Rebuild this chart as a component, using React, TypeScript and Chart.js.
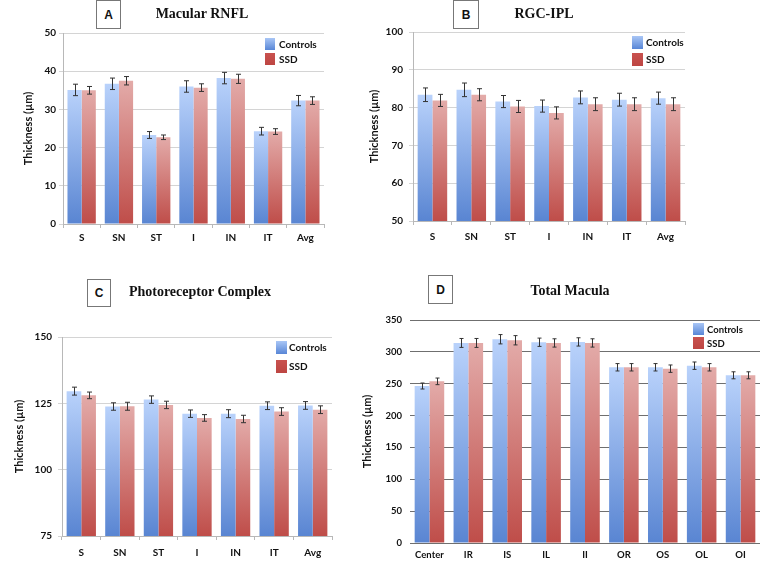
import React, { useEffect, useRef } from "react";
import { Chart, registerables } from "chart.js";

Chart.register(...registerables);

// ---------------- DATA ----------------
const sectorCats = ["S", "SN", "ST", "I", "IN", "IT", "Avg"];
const maculaCats = ["Center", "IR", "IS", "IL", "II", "OR", "OS", "OL", "OI"];
const seriesNames = ["Controls", "SSD"];

const rnflControls = [35.1, 36.7, 23.3, 36.0, 38.2, 24.3, 32.3];
const rnflControlsErr = [1.5, 1.5, 0.9, 1.5, 1.5, 1.0, 1.35];
const rnflSSD = [35.0, 37.5, 22.7, 35.7, 38.0, 24.2, 32.3];
const rnflSSDErr = [1.0, 1.1, 0.6, 1.0, 1.2, 0.75, 1.0];
const rnflTicks = [0, 10, 20, 30, 40, 50];

const rgcControls = [83.4, 84.7, 81.6, 80.4, 82.7, 82.1, 82.5];
const rgcControlsErr = [1.8, 1.8, 1.6, 1.6, 1.7, 1.7, 1.6];
const rgcSSD = [81.9, 83.4, 80.3, 78.6, 80.9, 80.9, 80.9];
const rgcSSDErr = [1.6, 1.6, 1.6, 1.6, 1.7, 1.7, 1.7];
const rgcTicks = [50, 60, 70, 80, 90, 100];

const prcControls = [129.6, 123.8, 126.4, 121.1, 121.1, 124.1, 124.2];
const prcControlsErr = [1.5, 1.4, 1.4, 1.4, 1.5, 1.45, 1.45];
const prcSSD = [128.0, 123.9, 124.4, 119.5, 119.1, 121.9, 122.6];
const prcSSDErr = [1.25, 1.5, 1.4, 1.25, 1.4, 1.45, 1.45];
const prcTicks = [75, 100, 125, 150];

const totalControls = [246.4, 314, 319.8, 315.1, 315.6, 275.8, 275.8, 278.3, 263.2];
const totalControlsErr = [4.7, 7, 7.3, 6.5, 6.5, 5.8, 5.8, 5.8, 5.5];
const totalSSD = [253.7, 314, 318.2, 314, 314, 275.8, 273.6, 275.8, 263.2];
const totalSSDErr = [5.2, 7, 7.3, 6.5, 6.5, 5.8, 5.8, 5.8, 5.5];
const totalTicks = [0, 50, 100, 150, 200, 250, 300, 350];

// ---------------- STYLE ----------------
const BLUE_LIGHT = "#b9d2fb";
const BLUE_DARK = "#5985d2";
const RED_LIGHT = "#e3aba9";
const RED_DARK = "#bf4d49";
const SANS = "Lato, 'Open Sans', sans-serif";
const SERIF = "'Liberation Serif', 'DejaVu Serif', serif";

type Box = { l: number; t: number; w: number; h: number };
type Area = { l: number; t: number; r: number; b: number };

const gradientFill = (light: string, dark: string) => (c: any) => {
  const chart = c.chart;
  if (!chart.chartArea || c.type !== "data") return dark;
  const ys = chart.scales.y;
  const top = ys.getPixelForValue(c.raw as number);
  const bottom = ys.bottom;
  const g = chart.ctx.createLinearGradient(0, top, 0, bottom);
  g.addColorStop(0, light);
  g.addColorStop(1, dark);
  return g;
};

const errorBarPlugin = {
  id: "errorBars",
  afterDatasetsDraw(chart: any, _a: any, opts: any) {
    const { ctx } = chart;
    const ys = chart.scales.y;
    ctx.save();
    ctx.strokeStyle = opts.color || "#333";
    ctx.lineWidth = opts.width || 1;
    chart.data.datasets.forEach((ds: any, i: number) => {
      const meta = chart.getDatasetMeta(i);
      meta.data.forEach((bar: any, j: number) => {
        const v = ds.data[j];
        const e = ds.errors[j];
        const x = Math.round(bar.x) + 0.5;
        const y1 = ys.getPixelForValue(v + e);
        const y2 = ys.getPixelForValue(v - e);
        const cap = opts.cap || 2.5;
        ctx.beginPath();
        ctx.moveTo(x, y1);
        ctx.lineTo(x, y2);
        ctx.moveTo(x - cap, y1);
        ctx.lineTo(x + cap, y1);
        ctx.moveTo(x - cap, y2);
        ctx.lineTo(x + cap, y2);
        ctx.stroke();
      });
    });
    ctx.restore();
  },
};

const swatchLegendPlugin = {
  id: "swatchLegend",
  afterDraw(chart: any, _a: any, opts: any) {
    const { ctx, chartArea } = chart;
    ctx.save();
    chart.data.datasets.forEach((ds: any, i: number) => {
      const x = chartArea.right - opts.dx;
      const y = chartArea.top + opts.dy + i * opts.step;
      const g = ctx.createLinearGradient(0, y, 0, y + opts.h);
      g.addColorStop(0, ds.swatchLight);
      g.addColorStop(1, ds.swatchDark);
      ctx.fillStyle = g;
      ctx.fillRect(x, y, opts.w, opts.h);
      ctx.fillStyle = "#111";
      ctx.font = `bold ${opts.size}px ${SANS}`;
      ctx.textBaseline = "middle";
      ctx.textAlign = "left";
      ctx.fillText(ds.label, x + opts.w + opts.gap, y + opts.h / 2 + 0.5);
    });
    ctx.restore();
  },
};

type PanelProps = {
  box: Box;
  area: Area;
  cats: string[];
  controls: number[];
  controlsErr: number[];
  ssd: number[];
  ssdErr: number[];
  ticks: number[];
  yTitleCenter: number;
  yTickPad: number;
  xTickPad: number;
  dark: boolean;
  fontSize: number;
  legend: any;
  cap: number;
};

function Panel(p: PanelProps) {
  const ref = useRef<HTMLCanvasElement | null>(null);
  useEffect(() => {
    if (!ref.current) return;
    const { box, area } = p;
    const yWidth = area.l - box.l;
    const xHeight = box.t + box.h - area.b;
    const titleFont = 11;
    const titlePad = p.yTitleCenter - box.l - (titleFont * 1.2) / 2;
    const tickMin = p.ticks[0];
    const tickMax = p.ticks[p.ticks.length - 1];
    const step = p.ticks[1] - p.ticks[0];
    const gridColor = p.dark ? "#6f6f6f" : "#d4d4d4";
    const chart = new Chart(ref.current, {
      type: "bar",
      data: {
        labels: p.cats,
        datasets: [
          {
            label: seriesNames[0],
            data: p.controls,
            errors: p.controlsErr,
            backgroundColor: gradientFill(BLUE_LIGHT, BLUE_DARK),
            swatchLight: "#a9c6f6",
            swatchDark: "#5886d6",
            barPercentage: 1,
            categoryPercentage: 0.76,
          } as any,
          {
            label: seriesNames[1],
            data: p.ssd,
            errors: p.ssdErr,
            backgroundColor: gradientFill(RED_LIGHT, RED_DARK),
            swatchLight: "#c9524f",
            swatchDark: "#bd4542",
            barPercentage: 1,
            categoryPercentage: 0.76,
          } as any,
        ],
      },
      options: {
        responsive: false,
        animation: false,
        devicePixelRatio: 1,
        layout: {
          padding: {
            left: 0,
            top: area.t - box.t,
            right: box.l + box.w - area.r,
            bottom: 0,
          },
        },
        plugins: {
          legend: { display: false },
          tooltip: { enabled: false },
          errorBars: { cap: p.cap, color: "#333", width: 1 },
          swatchLegend: p.legend,
        } as any,
        scales: {
          x: {
            afterFit: (s: any) => {
              s.height = xHeight;
            },
            grid: {
              display: true,
              drawOnChartArea: false,
              drawTicks: !p.dark,
              tickLength: 4,
              color: "#b8b8b8",
              offset: true,
            },
            border: { display: !p.dark, color: "#b8b8b8" },
            ticks: {
              color: "#111",
              padding: p.xTickPad,
              font: { family: SANS, weight: "bold", size: p.fontSize },
              maxRotation: 0,
              autoSkip: false,
            },
          },
          y: {
            min: tickMin,
            max: tickMax,
            afterFit: (s: any) => {
              s.width = yWidth;
            },
            afterBuildTicks: (s: any) => {
              s.ticks = p.ticks.map((v) => ({ value: v }));
            },
            ticks: {
              stepSize: step,
              color: "#111",
              padding: p.yTickPad,
              font: { family: SANS, weight: "bold", size: p.fontSize },
            },
            grid: {
              color: gridColor,
              lineWidth: 1,
              drawTicks: !p.dark,
              tickLength: 4,
            },
            border: { display: !p.dark, color: "#b8b8b8" },
            title: {
              display: true,
              text: "Thickness (µm)",
              color: "#111",
              font: { family: SANS, weight: "bold", size: titleFont },
              padding: { top: titlePad, bottom: 0 },
            },
          },
        },
      },
      plugins: [errorBarPlugin, swatchLegendPlugin],
    } as any);
    return () => chart.destroy();
  }, []);
  return (
    <canvas
      ref={ref}
      width={p.box.w}
      height={p.box.h}
      style={{
        position: "absolute",
        left: p.box.l,
        top: p.box.t,
        width: p.box.w,
        height: p.box.h,
      }}
    />
  );
}

function LetterBox(props: { letter: string; l: number; t: number; w: number; h: number }) {
  return (
    <div
      style={{
        position: "absolute",
        left: props.l,
        top: props.t,
        width: props.w,
        height: props.h,
        boxSizing: "border-box",
        border: "1px solid #777",
        background: "#fff",
        display: "flex",
        alignItems: "center",
        justifyContent: "center",
        fontFamily: "'Liberation Sans', Arial, sans-serif",
        fontWeight: "bold",
        fontSize: 12,
        color: "#111",
        zIndex: 2,
      }}
    >
      {props.letter}
    </div>
  );
}

function Title(props: { text: string; cx: number; cy: number }) {
  return (
    <div
      style={{
        position: "absolute",
        left: props.cx - 120,
        top: props.cy - 9,
        width: 240,
        height: 18,
        lineHeight: "18px",
        textAlign: "center",
        fontFamily: SERIF,
        fontWeight: "bold",
        fontSize: 14,
        color: "#111",
        zIndex: 2,
      }}
    >
      {props.text}
    </div>
  );
}

export default function App() {
  return (
    <div
      style={{
        position: "absolute",
        left: 0,
        top: 0,
        width: 760,
        height: 565,
        background: "#fff",
        overflow: "hidden",
      }}
    >
      <Panel
        box={{ l: 0, t: 0, w: 380, h: 260 }}
        area={{ l: 63, t: 33, r: 324, b: 224 }}
        cats={sectorCats}
        controls={rnflControls}
        controlsErr={rnflControlsErr}
        ssd={rnflSSD}
        ssdErr={rnflSSDErr}
        ticks={rnflTicks}
        yTitleCenter={28}
        yTickPad={3}
        xTickPad={4}
        dark={false}
        fontSize={10}
        cap={2.5}
        legend={{ dx: 59, dy: 5, step: 15, w: 10, h: 12, gap: 4, size: 10 }}
      />
      <Panel
        box={{ l: 355, t: 0, w: 405, h: 260 }}
        area={{ l: 413, t: 32, r: 685, b: 221 }}
        cats={sectorCats}
        controls={rgcControls}
        controlsErr={rgcControlsErr}
        ssd={rgcSSD}
        ssdErr={rgcSSDErr}
        ticks={rgcTicks}
        yTitleCenter={374}
        yTickPad={6}
        xTickPad={6}
        dark={false}
        fontSize={10}
        cap={2.5}
        legend={{ dx: 53, dy: 4, step: 17, w: 11, h: 13, gap: 3, size: 10 }}
      />
      <Panel
        box={{ l: 0, t: 265, w: 380, h: 300 }}
        area={{ l: 62, t: 337, r: 332, b: 536 }}
        cats={sectorCats}
        controls={prcControls}
        controlsErr={prcControlsErr}
        ssd={prcSSD}
        ssdErr={prcSSDErr}
        ticks={prcTicks}
        yTitleCenter={19}
        yTickPad={6}
        xTickPad={7}
        dark={false}
        fontSize={10}
        cap={2.5}
        legend={{ dx: 56, dy: 4, step: 19, w: 11, h: 13, gap: 2, size: 10 }}
      />
      <Panel
        box={{ l: 340, t: 265, w: 420, h: 300 }}
        area={{ l: 410, t: 320, r: 760, b: 543 }}
        cats={maculaCats}
        controls={totalControls}
        controlsErr={totalControlsErr}
        ssd={totalSSD}
        ssdErr={totalSSDErr}
        ticks={totalTicks}
        yTitleCenter={367}
        yTickPad={8}
        xTickPad={6}
        dark={true}
        fontSize={9.5}
        cap={2}
        legend={{ dx: 67, dy: 3, step: 14, w: 11, h: 12, gap: 3, size: 9.5 }}
      />
      <LetterBox letter="A" l={96} t={0} w={25} h={29} />
      <LetterBox letter="B" l={453} t={0} w={26} h={29} />
      <LetterBox letter="C" l={87} t={279} w={24} h={28} />
      <LetterBox letter="D" l={428} t={275} w={25} h={29} />
      <Title text="Macular RNFL" cx={202} cy={14} />
      <Title text="RGC-IPL" cx={544} cy={14} />
      <Title text="Photoreceptor Complex" cx={200} cy={292} />
      <Title text="Total Macula" cx={570} cy={291} />
    </div>
  );
}
